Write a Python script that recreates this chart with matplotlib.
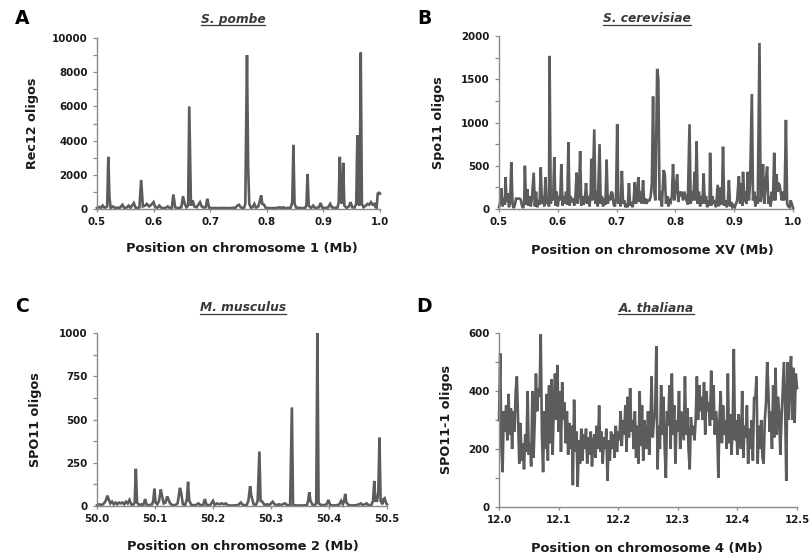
import matplotlib
matplotlib.use("Agg")
import matplotlib.pyplot as plt
from matplotlib.ticker import MultipleLocator, FormatStrFormatter
from matplotlib.lines import Line2D

plt.rcParams['font.family'] = ['DejaVu Sans']
plt.rcParams['font.weight'] = 'bold'

# ---------------- data (position in Mb, oligo count) ----------------
A_points = [
    (0.500, 60), (0.504, 120), (0.507, 60), (0.510, 200), (0.513, 80), (0.516, 100), (0.518, 150),
    (0.520, 3050), (0.522, 700), (0.524, 60), (0.528, 150), (0.532, 60), (0.536, 80), (0.540, 60),
    (0.545, 250), (0.548, 60), (0.552, 80), (0.556, 200), (0.559, 60), (0.565, 350), (0.568, 80),
    (0.572, 60), (0.575, 100), (0.578, 1700), (0.581, 150), (0.585, 200), (0.588, 300), (0.592, 150),
    (0.596, 250), (0.600, 400), (0.603, 100), (0.607, 80), (0.610, 200), (0.614, 60), (0.618, 50),
    (0.622, 80), (0.625, 150), (0.629, 50), (0.632, 60), (0.635, 850), (0.638, 100), (0.642, 50),
    (0.646, 80), (0.649, 100), (0.652, 750), (0.655, 300), (0.658, 100), (0.661, 200), (0.663, 6000),
    (0.666, 200), (0.669, 500), (0.672, 150), (0.676, 100), (0.680, 300), (0.682, 400), (0.685, 150),
    (0.689, 80), (0.692, 100), (0.695, 600), (0.698, 80), (0.702, 50), (0.708, 60), (0.715, 50),
    (0.722, 60), (0.730, 50), (0.738, 60), (0.745, 80), (0.748, 200), (0.751, 250), (0.754, 100),
    (0.757, 60), (0.760, 80), (0.762, 300), (0.765, 9000), (0.767, 2500), (0.769, 300), (0.772, 80),
    (0.775, 100), (0.778, 300), (0.781, 80), (0.785, 150), (0.788, 500), (0.790, 800), (0.792, 300),
    (0.795, 250), (0.798, 80), (0.802, 50), (0.810, 50), (0.818, 60), (0.823, 100), (0.826, 60),
    (0.829, 100), (0.832, 50), (0.838, 60), (0.842, 60), (0.845, 400), (0.847, 3750), (0.849, 300),
    (0.852, 80), (0.858, 60), (0.864, 50), (0.868, 80), (0.870, 200), (0.872, 2050), (0.874, 200),
    (0.878, 60), (0.882, 200), (0.885, 60), (0.889, 80), (0.892, 100), (0.895, 350), (0.898, 80),
    (0.903, 60), (0.908, 80), (0.912, 300), (0.915, 100), (0.920, 60), (0.925, 80), (0.927, 400),
    (0.929, 3050), (0.931, 500), (0.933, 300), (0.935, 2700), (0.937, 200), (0.941, 60), (0.945, 150),
    (0.948, 400), (0.951, 100), (0.955, 80), (0.958, 300), (0.960, 4300), (0.962, 300), (0.964, 200),
    (0.966, 9150), (0.968, 300), (0.971, 100), (0.975, 200), (0.978, 300), (0.981, 250), (0.984, 400),
    (0.987, 250), (0.990, 300), (0.992, 100), (0.994, 80), (0.996, 900), (0.998, 950), (1.000, 900),
]

B_points = [
    (0.500, 20), (0.502, 80), (0.504, 240), (0.506, 30), (0.508, 120), (0.510, 50), (0.511, 370),
    (0.513, 80), (0.515, 180), (0.517, 20), (0.519, 100), (0.521, 540), (0.523, 60), (0.525, 10),
    (0.527, 50), (0.529, 120), (0.531, 120), (0.533, 120), (0.535, 120), (0.537, 110), (0.539, 40),
    (0.541, 10), (0.543, 100), (0.544, 500), (0.546, 50), (0.548, 230), (0.550, 40), (0.552, 150),
    (0.554, 30), (0.556, 120), (0.559, 420), (0.561, 30), (0.563, 200), (0.565, 20), (0.567, 100),
    (0.569, 50), (0.571, 480), (0.573, 60), (0.575, 150), (0.577, 30), (0.579, 370), (0.581, 60),
    (0.583, 120), (0.585, 30), (0.586, 1770), (0.588, 60), (0.590, 150), (0.592, 100), (0.594, 600),
    (0.596, 40), (0.598, 200), (0.600, 30), (0.602, 150), (0.604, 100), (0.606, 520), (0.608, 40),
    (0.610, 150), (0.612, 60), (0.614, 200), (0.616, 50), (0.618, 770), (0.620, 40), (0.622, 150),
    (0.624, 80), (0.626, 120), (0.628, 40), (0.630, 150), (0.632, 420), (0.634, 60), (0.636, 200),
    (0.638, 670), (0.640, 40), (0.642, 150), (0.644, 50), (0.646, 100), (0.648, 300), (0.650, 60),
    (0.652, 150), (0.654, 30), (0.656, 200), (0.657, 580), (0.659, 100), (0.662, 920), (0.664, 60),
    (0.666, 200), (0.668, 30), (0.671, 750), (0.673, 60), (0.675, 150), (0.677, 30), (0.679, 120),
    (0.681, 50), (0.683, 570), (0.685, 60), (0.687, 150), (0.689, 100), (0.691, 200), (0.693, 180),
    (0.695, 50), (0.697, 30), (0.699, 120), (0.701, 980), (0.703, 60), (0.705, 100), (0.707, 30),
    (0.709, 440), (0.711, 60), (0.713, 100), (0.715, 20), (0.717, 60), (0.719, 20), (0.721, 300),
    (0.723, 40), (0.725, 80), (0.727, 20), (0.729, 100), (0.731, 310), (0.733, 60), (0.735, 150),
    (0.737, 370), (0.739, 80), (0.741, 200), (0.743, 60), (0.745, 330), (0.747, 60), (0.749, 120),
    (0.751, 60), (0.753, 100), (0.756, 100), (0.758, 150), (0.760, 300), (0.762, 1300), (0.764, 200),
    (0.766, 100), (0.769, 1620), (0.771, 1500), (0.773, 100), (0.775, 200), (0.777, 30), (0.780, 450),
    (0.782, 400), (0.784, 60), (0.786, 150), (0.788, 30), (0.790, 100), (0.792, 80), (0.794, 150),
    (0.796, 520), (0.798, 100), (0.800, 200), (0.803, 400), (0.805, 80), (0.807, 200), (0.809, 150),
    (0.811, 200), (0.813, 100), (0.815, 200), (0.817, 150), (0.819, 100), (0.821, 50), (0.824, 980),
    (0.826, 60), (0.828, 200), (0.830, 100), (0.833, 430), (0.834, 100), (0.836, 780), (0.838, 60),
    (0.840, 200), (0.842, 30), (0.844, 150), (0.846, 60), (0.848, 410), (0.850, 60), (0.852, 150),
    (0.854, 20), (0.856, 100), (0.858, 40), (0.859, 650), (0.861, 40), (0.863, 150), (0.865, 60),
    (0.867, 100), (0.869, 20), (0.872, 280), (0.874, 30), (0.877, 250), (0.879, 50), (0.881, 720),
    (0.883, 40), (0.885, 100), (0.887, 20), (0.889, 60), (0.891, 330), (0.893, 30), (0.895, 80),
    (0.897, 20), (0.899, 40), (0.901, 20), (0.903, 60), (0.905, 100), (0.906, 200), (0.908, 380),
    (0.910, 60), (0.912, 300), (0.914, 40), (0.915, 430), (0.917, 80), (0.919, 200), (0.921, 60),
    (0.923, 430), (0.925, 100), (0.927, 300), (0.930, 1330), (0.932, 100), (0.934, 200), (0.936, 30),
    (0.938, 150), (0.940, 60), (0.943, 1920), (0.945, 80), (0.947, 200), (0.949, 520), (0.951, 60),
    (0.953, 250), (0.956, 490), (0.958, 60), (0.960, 150), (0.962, 30), (0.964, 200), (0.966, 100),
    (0.968, 650), (0.970, 100), (0.972, 400), (0.974, 200), (0.975, 300), (0.977, 280), (0.979, 200),
    (0.981, 100), (0.983, 200), (0.985, 100), (0.986, 250), (0.988, 1030), (0.990, 60), (0.992, 30),
    (0.994, 20), (0.996, 100), (0.998, 60), (1.000, 10),
]

C_points = [
    (50.000, 5), (50.004, 10), (50.008, 5), (50.012, 15), (50.015, 30), (50.018, 60), (50.020, 40),
    (50.023, 15), (50.026, 25), (50.029, 10), (50.032, 20), (50.035, 10), (50.038, 20), (50.041, 15),
    (50.044, 20), (50.047, 10), (50.050, 25), (50.053, 15), (50.056, 35), (50.059, 10), (50.062, 5),
    (50.065, 20), (50.067, 215), (50.069, 20), (50.073, 5), (50.077, 10), (50.080, 5), (50.083, 40),
    (50.086, 5), (50.090, 5), (50.095, 10), (50.097, 30), (50.099, 100), (50.101, 20), (50.104, 10),
    (50.107, 30), (50.110, 95), (50.112, 60), (50.115, 15), (50.118, 20), (50.121, 55), (50.123, 40),
    (50.126, 15), (50.130, 5), (50.135, 5), (50.139, 15), (50.141, 60), (50.143, 105), (50.145, 80),
    (50.148, 10), (50.152, 5), (50.155, 40), (50.157, 140), (50.159, 30), (50.163, 5), (50.170, 5),
    (50.175, 15), (50.178, 5), (50.183, 5), (50.186, 40), (50.189, 5), (50.195, 5), (50.200, 30),
    (50.203, 5), (50.207, 15), (50.211, 10), (50.215, 15), (50.219, 10), (50.222, 15), (50.226, 3),
    (50.235, 3), (50.243, 5), (50.248, 20), (50.252, 5), (50.258, 5), (50.261, 30), (50.264, 115),
    (50.266, 60), (50.270, 10), (50.274, 5), (50.277, 30), (50.280, 315), (50.282, 30), (50.285, 25),
    (50.289, 5), (50.293, 10), (50.297, 5), (50.300, 15), (50.303, 25), (50.306, 10), (50.310, 5),
    (50.314, 10), (50.317, 5), (50.320, 10), (50.324, 15), (50.328, 5), (50.333, 5), (50.336, 570),
    (50.338, 5), (50.345, 3), (50.355, 3), (50.362, 5), (50.364, 30), (50.366, 80), (50.368, 30),
    (50.372, 5), (50.376, 5), (50.378, 20), (50.380, 1000), (50.382, 15), (50.387, 5), (50.392, 5),
    (50.396, 10), (50.399, 35), (50.402, 5), (50.408, 3), (50.414, 5), (50.418, 10), (50.421, 30),
    (50.424, 10), (50.426, 30), (50.428, 70), (50.430, 20), (50.434, 5), (50.440, 3), (50.447, 5),
    (50.452, 10), (50.455, 15), (50.458, 5), (50.462, 10), (50.465, 15), (50.468, 5), (50.473, 5),
    (50.476, 30), (50.478, 145), (50.480, 30), (50.483, 30), (50.485, 80), (50.487, 395), (50.489, 30),
    (50.492, 10), (50.494, 40), (50.496, 45), (50.498, 20), (50.500, 10),
]

# A. thaliana: 2-kb bins starting at 12.000 Mb
D_start = 12.0
D_bin = 0.002
D_values = [
    300, 530, 210, 120, 330, 260, 350, 230, 390, 250,
    340, 200, 330, 260, 400, 450, 300, 150, 290, 160,
    220, 130, 250, 190, 400, 180, 220, 140, 400, 170,
    300, 460, 330, 410, 380, 595, 250, 120, 330, 200,
    390, 160, 420, 220, 440, 180, 350, 460, 300, 490,
    260, 400, 190, 430, 300, 360, 220, 330, 180, 290,
    200, 280, 75, 370, 190, 260, 70, 230, 150, 270,
    160, 250, 200, 270, 150, 240, 180, 260, 140, 220,
    250, 170, 280, 200, 350, 190, 260, 150, 240, 200,
    270, 90, 230, 160, 260, 200, 250, 170, 280, 190,
    260, 230, 330, 210, 300, 250, 350, 190, 380, 240,
    410, 260, 300, 200, 330, 170, 280, 150, 400, 210,
    350, 160, 300, 230, 200, 330, 180, 280, 450, 240,
    300, 330, 555, 130, 280, 200, 420, 250, 380, 200,
    100, 330, 280, 420, 200, 460, 250, 350, 150, 300,
    260, 400, 200, 330, 280, 230, 450, 250, 340, 200,
    130, 310, 250, 280, 230, 300, 450, 300, 420, 330,
    380, 300, 430, 250, 400, 330, 360, 280, 470, 300,
    420, 250, 330, 280, 100, 310, 400, 220, 350, 250,
    300, 200, 460, 220, 320, 180, 270, 545, 230, 300,
    180, 320, 250, 200, 400, 170, 280, 240, 350, 150,
    270, 200, 300, 160, 380, 370, 450, 150, 280, 200,
    300, 170, 150, 300, 360, 500, 400, 260, 330, 200,
    420, 240, 480, 250, 380, 330, 180, 300, 400, 500,
    350, 90, 500, 300, 450, 520, 300, 480, 290, 460,
    410,
]
D_points = [(D_start + D_bin * i, v) for i, v in enumerate(D_values)]

# ---------------- figure ----------------
W, H = 811, 557
fig = plt.figure(figsize=(W / 100, H / 100), dpi=100)

LINE_COLOR = '#5c5c5c'
AXIS_COLOR = '#8a8a8a'
TEXT_COLOR = '#1a1a1a'
TITLE_COLOR = '#3a3a3a'


def px_rect(x0, x1, ytop, ybot):
    return [x0 / W, 1 - ybot / H, (x1 - x0) / W, (ybot - ytop) / H]


panels = [
    dict(points=A_points, rect=px_rect(97, 380, 38, 209), xlim=(0.5, 1.0), ylim=(0, 10000),
         ymaj=2000, ymin=1000, ylabel='Rec12 oligos', ylab_x=-0.205,
         xlabel='Position on chromosome 1 (Mb)', xlab=(0.512, -0.195),
         title='S. pombe', title_xy=(233, 19), letter='A', letter_xy=(22, 19), lw=1.9),
    dict(points=B_points, rect=px_rect(499, 793, 36, 209), xlim=(0.5, 1.0), ylim=(0, 2000),
         ymaj=500, ymin=250, ylabel='Spo11 oligos', ylab_x=-0.184,
         xlabel='Position on chromosome XV (Mb)', xlab=(0.52, -0.205),
         title='S. cerevisiae', title_xy=(647, 18.5), letter='B', letter_xy=(424, 19), lw=1.9),
    dict(points=C_points, rect=px_rect(97, 387, 333, 506), xlim=(50.0, 50.5), ylim=(0, 1000),
         ymaj=250, ymin=125, ylabel='SPO11 oligos', ylab_x=-0.188,
         xlabel='Position on chromosome 2 (Mb)', xlab=(0.503, -0.195),
         title='M. musculus', title_xy=(243, 307.5), letter='C', letter_xy=(21.5, 307), lw=1.9),
    dict(points=D_points, rect=px_rect(499, 797, 333, 507), xlim=(12.0, 12.5), ylim=(0, 600),
         ymaj=200, ymin=100, ylabel='SPO11-1 oligos', ylab_x=-0.154,
         xlabel='Position on chromosome 4 (Mb)', xlab=(0.497, -0.2),
         title='A. thaliana', title_xy=(656, 308), letter='D', letter_xy=(424.5, 307), lw=1.9),
]

title_texts = []
for p in panels:
    ax = fig.add_axes(p['rect'])
    xs = [q[0] for q in p['points']]
    ys = [q[1] for q in p['points']]
    ax.plot(xs, ys, color=LINE_COLOR, lw=p['lw'], solid_joinstyle='miter', clip_on=False)
    ax.set_xlim(*p['xlim'])
    ax.set_ylim(*p['ylim'])
    for s in ('top', 'right'):
        ax.spines[s].set_visible(False)
    for s in ('left', 'bottom'):
        ax.spines[s].set_color(AXIS_COLOR)
        ax.spines[s].set_linewidth(1.0)
    ax.xaxis.set_major_locator(MultipleLocator(0.1))
    ax.xaxis.set_major_formatter(FormatStrFormatter('%.1f'))
    ax.yaxis.set_major_locator(MultipleLocator(p['ymaj']))
    ax.yaxis.set_minor_locator(MultipleLocator(p['ymin']))
    ax.yaxis.set_major_formatter(FormatStrFormatter('%d'))
    ax.tick_params(axis='y', which='both', direction='out', length=3.2, width=0.9,
                   color=AXIS_COLOR, pad=3.5, labelsize=7.4, labelcolor=TEXT_COLOR)
    ax.tick_params(axis='x', which='major', direction='out', length=2.5, width=0.9,
                   color=AXIS_COLOR, pad=3.5, labelsize=7.4, labelcolor=TEXT_COLOR)
    for lab in ax.get_xticklabels() + ax.get_yticklabels():
        lab.set_fontweight('bold')
    ax.set_ylabel(p['ylabel'], fontsize=9.2, fontweight='bold', color=TEXT_COLOR)
    ax.yaxis.set_label_coords(p['ylab_x'], 0.5)
    ax.set_xlabel(p['xlabel'], fontsize=9.4, fontweight='bold', color=TEXT_COLOR)
    ax.xaxis.set_label_coords(*p['xlab'])
    ax.patch.set_alpha(0)

    tx, ty = p['title_xy']
    t = fig.text(tx / W, 1 - ty / H, p['title'], ha='center', va='center', fontsize=8.8,
                 fontweight='bold', fontstyle='italic', color=TITLE_COLOR)
    title_texts.append(t)
    lx, ly = p['letter_xy']
    fig.text(lx / W, 1 - ly / H, p['letter'], ha='center', va='center', fontsize=13.5,
             fontweight='bold', color='black')

# underline the species names
fig.canvas.draw()
renderer = fig.canvas.get_renderer()
for t in title_texts:
    bb = t.get_window_extent(renderer)
    y = bb.y0 + 0.5
    fig.add_artist(Line2D([bb.x0 / W, bb.x1 / W], [y / H, y / H], transform=fig.transFigure,
                          color=TITLE_COLOR, lw=0.9))

fig.savefig('out.png', dpi=100, facecolor='white')
